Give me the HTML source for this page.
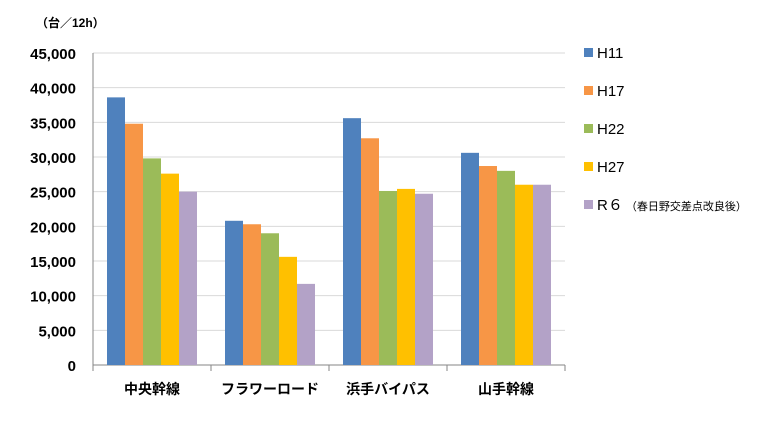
<!DOCTYPE html>
<html><head><meta charset="utf-8"><style>
body{margin:0;background:#fff}
svg{display:block;font-family:"Liberation Sans","Noto Sans CJK JP",sans-serif}
</style></head><body>
<svg id="c" width="760" height="421"></svg>
<script>
const categories=["中央幹線","フラワーロード","浜手バイパス","山手幹線"];
const seriesNames=["H11","H17","H22","H27","R６"];
const h11=[38600,20800,35600,30600];
const h17=[34800,20300,32700,28700];
const h22=[29800,19000,25100,28000];
const h27=[27600,15600,25400,26000];
const r6=[25000,11700,24700,26000];
const yTicks=[0,5000,10000,15000,20000,25000,30000,35000,40000,45000];
const colors=["#4f81bd","#f79646","#9bbb59","#ffc000","#b3a2c7"];
const series=[h11,h17,h22,h27,r6];
const NS="http://www.w3.org/2000/svg";
const svg=document.getElementById('c');
const x0=93,x1=565,yBase=365,yTop=53,yMax=45000;
const y=v=>yBase-(v/yMax)*(yBase-yTop);
const gw=(x1-x0)/categories.length,bw=18,gOff=(gw-bw*5)/2;
const xb=(g,s)=>x0+g*gw+gOff+s*bw;
function mk(t,a,txt){const e=document.createElementNS(NS,t);for(const k in a)e.setAttribute(k,a[k]);if(txt!=null)e.textContent=txt;svg.appendChild(e);return e;}
yTicks.forEach(t=>{
 const l=mk('line',{x1:x0,x2:x1,y1:y(t),y2:y(t),stroke:t===0?'#868686':'#d9d9d9','stroke-width':1});
 
 
 const tx=mk('text',{x:76,y:y(t)+6,'text-anchor':'end','font-size':15,'font-weight':'bold',fill:'#000'},t.toLocaleString('en-US'));
 
 
});
const ax=mk('line',{x1:x0,x2:x0,y1:yTop,y2:yBase,stroke:'#868686'});


const ut=mk('text',{x:36,y:27,'font-size':12,'font-weight':'bold'},'（台／12h）');


categories.forEach((c,g)=>{
 const tk=mk('line',{x1:x0+g*gw,x2:x0+g*gw,y1:yBase,y2:yBase+6,stroke:'#868686'});
 
 
 series.forEach((s,i)=>{
  const r=mk('rect',{x:xb(g,i),y:y(s[g]),width:bw,height:yBase-y(s[g]),fill:colors[i]});
  
  
 });
 const lb=mk('text',{x:x0+g*gw+gw/2,y:394,'text-anchor':'middle','font-size':14,'font-weight':'bold'},c);
 
 
});
const tkE=mk('line',{x1:x1,x2:x1,y1:yBase,y2:yBase+6,stroke:'#868686'});


seriesNames.forEach((n,i)=>{
 const ly=53+i*38;
 const sq=mk('rect',{x:584,y:ly-5,width:9,height:9,fill:colors[i]});
 
 
 const t=mk('text',{x:597,y:ly+5,'font-size':15,fill:'#000'},n);
 
 
 if(i===4){const s=mk('tspan',{'font-size':11,dx:3},'（春日野交差点改良後）');t.appendChild(s);}
});
</script>
</body></html>
